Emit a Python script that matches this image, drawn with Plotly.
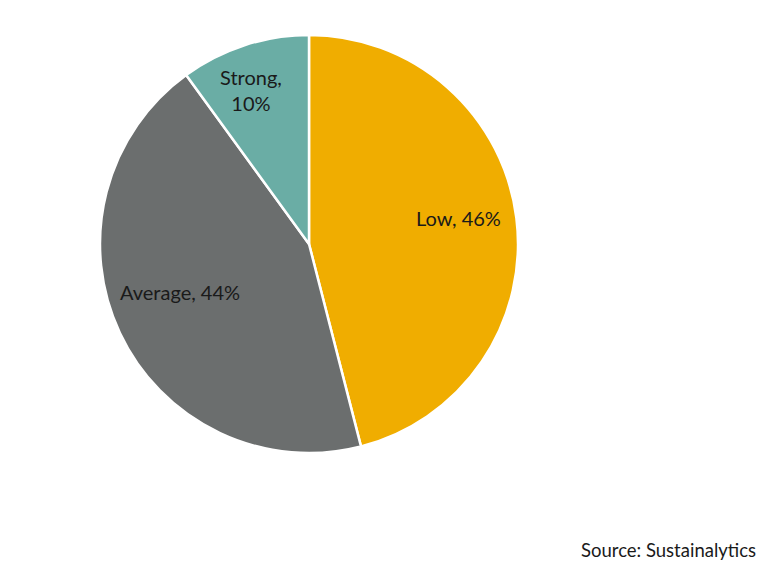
import math
import plotly.graph_objects as go

categories = ["Low", "Average", "Strong"]
values = [46, 44, 10]
colors = ["#F0AD00", "#6B6E6E", "#6AADA5"]
source_text = "Source: Sustainalytics"

W, H = 782, 577
OFF = 8  # page body margin offset in the screenshot
# pie geometry in screen pixels (style)
cx, cy, R = 309, 244, 209
label_radius = [0.724, 0.658, 0.788]
label_angle_shift = [-2.7, 4.8, -2.6]  # degrees
label_sep = [", ", ", ", ",<br>"]


def to_paper(px, py):
    return (px - OFF) / W, 1 - (py - OFF) / H


x0, y0 = to_paper(cx - R, cy + R)
x1, y1 = to_paper(cx + R, cy - R)

fig = go.Figure(go.Pie(
    labels=categories,
    values=values,
    textinfo="none",
    sort=False,
    direction="clockwise",
    rotation=0,
    marker=dict(colors=colors, line=dict(color="white", width=2.5)),
    hoverinfo="label+percent",
    showlegend=False,
    domain=dict(x=[x0, x1], y=[y0, y1]),
))

total = sum(values)
start = 0.0
for c, v, fr, sh, sep in zip(categories, values, label_radius, label_angle_shift, label_sep):
    mid = (start + v / 2) / total * 2 * math.pi + math.radians(sh)
    start += v
    px = cx + fr * R * math.sin(mid)
    py = cy - fr * R * math.cos(mid)
    ax, ay = to_paper(px, py)
    fig.add_annotation(
        text=f"{c}{sep}{round(v / total * 100)}%",
        xref="paper", yref="paper", x=ax, y=ay,
        xanchor="center", yanchor="middle", showarrow=False,
        font=dict(family="Lato", size=20, color="#1a1a1a"),
    )

sx, sy = to_paper(758, 550)
fig.add_annotation(
    text=source_text, xref="paper", yref="paper",
    x=sx, y=sy, xanchor="right", yanchor="middle",
    showarrow=False,
    font=dict(family="Lato", size=18.5, color="#1a1a1a"),
)

fig.update_layout(
    width=W, height=H,
    margin=dict(l=0, r=0, t=0, b=0),
    paper_bgcolor="white", plot_bgcolor="white",
)

fig.write_html("out.html")
